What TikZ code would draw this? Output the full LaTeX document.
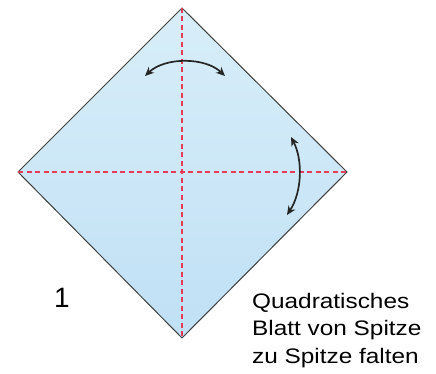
\documentclass[tikz,border=0pt]{standalone}
\usepackage{fontspec}
\setmainfont{Liberation Sans}
\newfontfamily\hinweisschrift[FakeStretch=1.16]{Liberation Sans}
\usetikzlibrary{arrows.meta, calc}
\definecolor{blatthell}{RGB}{216,238,249}
\definecolor{blattdunkel}{RGB}{192,224,245}
\definecolor{falzrot}{RGB}{230,60,90}
\tikzset{
    blatt/.style   = {draw=black!75, line width=1pt, top color=blatthell, bottom color=blattdunkel},
    falz/.style    = {falzrot, dash pattern=on 5pt off 3.5pt, line width=1.6pt},
    wende/.style   = {{Stealth[length=9pt, width=8pt]}-{Stealth[length=9pt, width=8pt]}, line width=1.7pt, black!85},
    nummer/.style  = {font=\fontsize{28}{30}\selectfont, inner sep=0pt},
    hinweis/.style = {font=\hinweisschrift\fontsize{21}{27.5}\selectfont, align=left, inner sep=0pt},
}

\begin{document}
\begin{tikzpicture}[x=1pt, y=-1pt]
    \useasboundingbox (0,0) rectangle (436,374);
    % ecken des blattes
    \coordinate (oben)   at (182,8);
    \coordinate (links)  at (18,172);
    \coordinate (rechts) at (347,172);
    \coordinate (unten)  at (182,338);
    \path[blatt] (oben) -- (rechts) -- (unten) -- (links) -- cycle;
    % faltlinien
    \draw[falz] (links) -- (rechts);
    \draw[falz] (oben) -- (unten);
    % pfeile
    \coordinate (pa) at (145,76);
    \coordinate (pb) at (225,76);
    \draw[wende] (pa) .. controls (165,57) and (205,57) .. (pb);
    \coordinate (pc) at (291,137);
    \coordinate (pd) at (287,215);
    \draw[wende] (pc) .. controls (303,160) and (302,192) .. (pd);
    % beschriftung
    \node[nummer] (schritt) at (62,298) {1};
    \node[hinweis, anchor=north west] (text) at (252,293)
        {Quadratisches\\Blatt von Spitze\\zu Spitze falten};
\end{tikzpicture}
\end{document}
